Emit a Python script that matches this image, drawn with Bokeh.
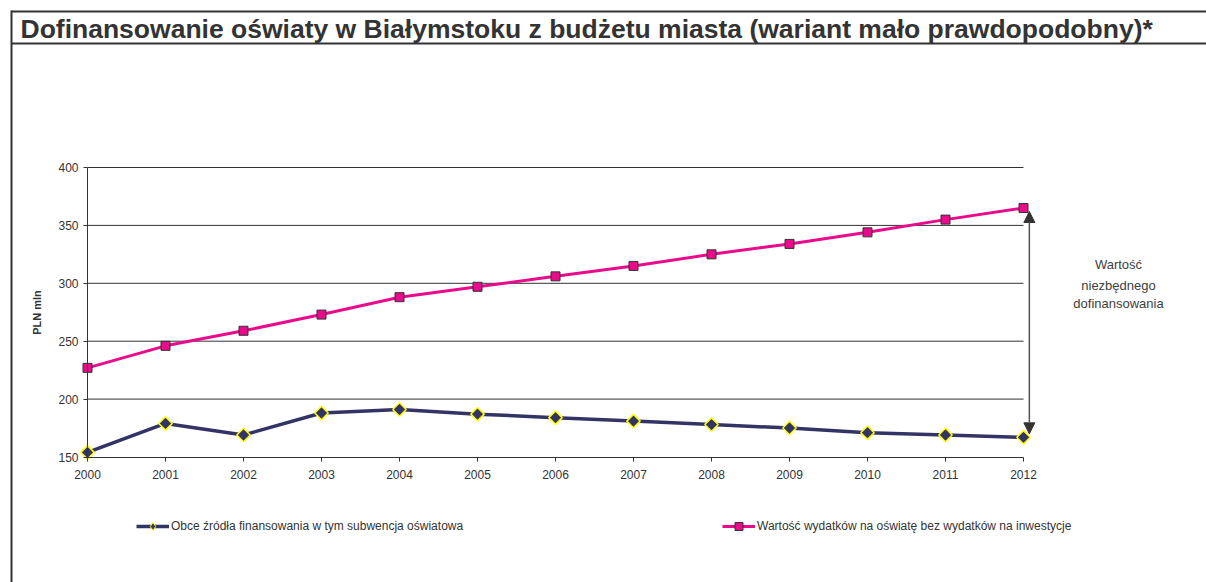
import numpy as np
from bokeh.plotting import figure
from bokeh.models import (FixedTicker, Arrow, NormalHead, Label, Legend,
                          LegendItem, Range1d)
from bokeh.embed import file_html
from bokeh.resources import INLINE

# ---- data ----
years = [2000, 2001, 2002, 2003, 2004, 2005, 2006, 2007, 2008, 2009, 2010, 2011, 2012]
obce = [154, 179, 169, 188, 191, 187, 184, 181, 178, 175, 171, 169, 167]
wydatki = [227, 246, 259, 273, 288, 297, 306, 315, 325, 334, 344, 355, 365]
y_ticks = [150, 200, 250, 300, 350, 400]
title_text = "Dofinansowanie oświaty w Białymstoku z budżetu miasta (wariant mało prawdopodobny)*"
y_label = "PLN mln"
series_names = ["Obce źródła finansowania w tym subwencja oświatowa",
                "Wartość wydatków na oświatę bez wydatków na inwestycje"]
note_lines = ["Wartość", "niezbędnego", "dofinansowania"]

# ---- layout (pixels on the canvas) ----
W, H = 1206, 582
PX_L, PX_R = 87.0, 1023.0      # canvas x of first / last year
PY_T, PY_B = 167.0, 456.5      # canvas y of top / bottom y tick
X0, X1 = years[0], years[-1]
Y0, Y1 = y_ticks[0], y_ticks[-1]
kx = (X1 - X0) / (PX_R - PX_L)
ky = (Y1 - Y0) / (PY_B - PY_T)
FONT = "Liberation Sans"
NAVY = "#333366"
PINK = "#EA0A8C"
DARK = "#333333"


def dx(px):
    return X0 + (px - PX_L) * kx


def dy(py):
    return Y0 + (PY_B - py) * ky


p = figure(width=W, height=H,
           x_range=Range1d(dx(0), dx(W)), y_range=Range1d(dy(H), dy(0)),
           output_backend="svg", toolbar_location=None, min_border=0)
p.outline_line_color = None
p.background_fill_color = "white"
p.border_fill_color = "white"
p.grid.grid_line_color = None

p.xaxis.ticker = FixedTicker(ticks=years)
p.yaxis.ticker = FixedTicker(ticks=y_ticks)
p.xaxis.fixed_location = Y0
p.yaxis.fixed_location = X0
p.xaxis.bounds = (X0, X1)
p.yaxis.bounds = (Y0, Y1)
for ax in (p.xaxis[0], p.yaxis[0]):
    ax.axis_line_color = DARK
    ax.axis_line_width = 1
    ax.major_tick_line_color = DARK
    ax.major_tick_out = 4
    ax.major_tick_in = 0
    ax.minor_tick_line_color = None
    ax.major_label_text_font = FONT
    ax.major_label_text_font_size = "12px"
    ax.major_label_text_color = DARK
p.xaxis.major_label_standoff = 9
p.yaxis.major_label_standoff = 5
p.yaxis.axis_label = y_label
p.yaxis.axis_label_text_font = FONT
p.yaxis.axis_label_text_font_size = "11px"
p.yaxis.axis_label_text_font_style = "bold"
p.yaxis.axis_label_text_color = DARK
p.yaxis.axis_label_standoff = 12

# horizontal grid lines between first and last year
g = y_ticks[1:]
p.segment(x0=[X0] * len(g), y0=g, x1=[X1] * len(g), y1=g,
          line_color=DARK, line_width=1, level="underlay")

# ---- series ----
navy_line = p.line(years, obce, line_color=NAVY, line_width=3.5)
pink_line = p.line(years, wydatki, line_color=PINK, line_width=3)
navy_pts = p.scatter(years, obce, marker="square", angle=np.pi / 4, size=9.5,
                     fill_color=NAVY, line_color="#FFFF00", line_width=1.5)
pink_pts = p.scatter(years, wydatki, marker="square", size=9,
                     fill_color=PINK, line_color=DARK, line_width=1)
navy_leg = p.scatter(years, obce, marker="diamond", size=10,
                     fill_color=NAVY, line_color="#FFFF00", line_width=1,
                     visible=False)

# ---- frame around title ----
for (xs, ys, xe, ye) in [(11, 11, 1220, 11), (11, 43, 1220, 43), (11, 10, 11, 600)]:
    p.add_layout(Arrow(end=None, start=None, x_start=dx(xs), y_start=dy(ys),
                       x_end=dx(xe), y_end=dy(ye), line_color=DARK, line_width=2))

p.add_layout(Label(x=dx(20), y=dy(28), text=title_text, text_font=FONT,
                   text_font_size="26.5px", text_font_style="bold",
                   text_color=DARK, text_baseline="alphabetic"))

# ---- double arrow ----
xa = X1 + 0.075
p.add_layout(Arrow(x_start=xa, y_start=obce[-1] + 3, x_end=xa, y_end=wydatki[-1] - 3,
                   line_color="#555555", line_width=1.5,
                   start=NormalHead(size=11, fill_color=DARK, line_color=DARK),
                   end=NormalHead(size=11, fill_color=DARK, line_color=DARK)))
for txt, py in zip(note_lines, [264, 285, 303]):
    p.add_layout(Label(x=dx(1118), y=dy(py), text=txt, text_font=FONT,
                       text_font_size="13px", text_color="#404040",
                       text_align="center", text_baseline="middle"))

# ---- legends ----
for item, loc in [(LegendItem(label=series_names[0], renderers=[navy_line, navy_leg]), (136, 46)),
                  (LegendItem(label=series_names[1], renderers=[pink_line, pink_pts]), (722, 46))]:
    lg = Legend(items=[item], location=loc, orientation="horizontal",
                glyph_width=33, glyph_height=20, label_height=20,
                label_standoff=2, padding=0, margin=0, spacing=0,
                border_line_alpha=0, background_fill_alpha=0,
                label_text_font=FONT, label_text_font_size="12px",
                label_text_color=DARK)
    p.add_layout(lg)

open("out.html", "w").write(file_html(p, INLINE))
